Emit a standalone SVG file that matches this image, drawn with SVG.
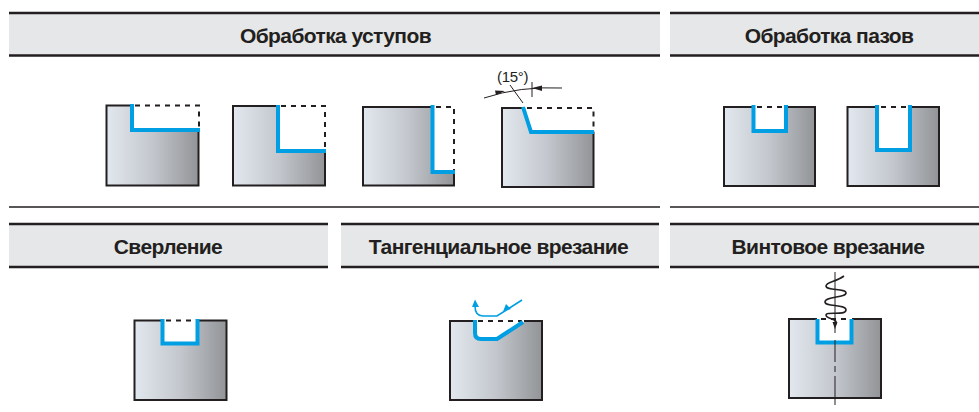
<svg xmlns="http://www.w3.org/2000/svg" width="979" height="412" viewBox="0 0 979 412">
<style>
.hb{fill:#e6e7e8}
.hl{stroke:#231f20;stroke-width:2.4;fill:none}
.ht{font-family:"Liberation Sans",Arial,sans-serif;font-weight:700;font-size:21px;letter-spacing:-.6px;fill:#231f20;text-anchor:middle}
.body{fill:url(#g);stroke:#231f20;stroke-width:2}
.cut{fill:#fff}
.dash{stroke:#231f20;stroke-width:2;stroke-dasharray:5 5;fill:none}
.blue{stroke:#009fe3;stroke-width:4;fill:none;stroke-linecap:butt;stroke-linejoin:miter}
.thin{stroke:#231f20;stroke-width:1;fill:none}
.bt{stroke:#009fe3;stroke-width:1.6;fill:none}
</style>
<defs>
<linearGradient id="g"><stop offset="0" stop-color="#e2e8ef"/><stop offset=".5" stop-color="#c3c7cd"/><stop offset="1" stop-color="#929497"/></linearGradient>
</defs>
<g id="header-ledges"><rect class="hb" x="9" y="13" width="651" height="42"/><path class="hl" d="M9 13H660M9 55.500H660"/><text class="ht" x="335.500" y="42.500">Обработка уступов</text></g>
<g id="header-slots"><rect class="hb" x="670" y="13" width="309" height="42"/><path class="hl" d="M670 13H979M670 55.500H979"/><text class="ht" x="829" y="42.500">Обработка пазов</text></g>
<path id="divider" d="M9 207H660M670 207H979" fill="none" stroke="#231f20" stroke-width="1.300"/>
<g id="header-drilling"><rect class="hb" x="9" y="224" width="319" height="42"/><path class="hl" d="M9 224H328M9 267H328"/><text class="ht" x="168" y="254">Сверление</text></g>
<g id="header-tangential"><rect class="hb" x="341" y="224" width="318" height="42"/><path class="hl" d="M341 224H659M341 267H659"/><text class="ht" x="498.500" y="254">Тангенциальное врезание</text></g>
<g id="header-helical"><rect class="hb" x="670" y="224" width="309" height="42"/><path class="hl" d="M670 224H979M670 267H979"/><text class="ht" x="828" y="254">Винтовое врезание</text></g>

<g id="part-1"><rect class="body" x="106.500" y="105.500" width="92" height="80"/><rect class="cut" x="132" y="103" width="68" height="27"/><path class="dash" d="M135 105.500H199V130"/><path class="blue" d="M132 104V130H200"/></g>
<g id="part-2"><rect class="body" x="233" y="106" width="92" height="79.500"/><rect class="cut" x="278" y="104" width="48" height="47"/><path class="dash" d="M281 106H325V151"/><path class="blue" d="M278 105V151H326"/></g>
<g id="part-3"><rect class="body" x="363" y="107" width="91" height="78.500"/><rect class="cut" x="432" y="105" width="23" height="67"/><path class="dash" d="M436 107H454V172"/><path class="blue" d="M432.500 105V172H455"/></g>
<g id="part-4"><rect class="body" x="502" y="108" width="91.500" height="79"/><path class="cut" d="M523 106H595V132H531Z"/><path class="dash" d="M527 108H593.500V132"/><path class="blue" d="M523 107L531 132H594"/>
<path class="thin" d="M484 98Q520 86 562 88M510 85L523 103M532 82V97"/><path d="M505 91L495 90.500L496 95Z M532 88L542 85.500V91Z" fill="#231f20"/>
<text x="497" y="81.500" font-family="Liberation Sans,Arial,sans-serif" font-size="15" letter-spacing="-.3" fill="#231f20">(15°)</text></g>
<g id="part-5"><rect class="body" x="724" y="107" width="91" height="79"/><rect class="cut" x="753" y="105" width="34" height="27"/><path class="dash" d="M757 107H785" stroke-dasharray="4 6"/><path class="blue" d="M753.500 105V131H786V105"/></g>
<g id="part-6"><rect class="body" x="847.500" y="107" width="91.500" height="79"/><rect class="cut" x="877" y="105" width="33" height="45"/><path class="dash" d="M881 107H908" stroke-dasharray="4 6"/><path class="blue" d="M877 105V150H910V105"/></g>
<g id="part-7"><rect class="body" x="134.500" y="320.500" width="92" height="79.500"/><rect class="cut" x="162" y="318" width="36" height="26"/><path class="dash" d="M166 320.500H196" stroke-dasharray="4 5"/><path class="blue" d="M162.500 319V343.500H197.500V319"/></g>
<g id="part-8"><rect class="body" x="450" y="321" width="92" height="79"/><path class="cut" d="M474 319H524V322L497 339H478L474 335Z"/><path class="dash" d="M478 321H522"/><path class="blue" d="M475 320V333Q475 339 481 339H497L523 322"/></g>
<g id="part-9"><rect class="body" x="789" y="319" width="92" height="79"/><rect class="cut" x="817" y="317" width="35" height="26"/><path class="dash" d="M821 319H850" stroke-dasharray="4 5"/><path class="blue" d="M817.500 319V342.500H851.500V319"/></g>

<g id="connectors">
<path class="bt" d="M522 300L497 316H483Q475 316 475 306"/>
<path d="M475 299.500L472 307H479Z M503 311.500L511 309L506 304Z" fill="#009fe3"/>
<path d="M835 272V333M835 340V362M835 366V372M835 376V405" class="thin"/>
<path d="M844 276C836 282 826 282 826 286C826 291 846 288 846 293C846 298 825 296 825 302C825 307 846 304 846 310C846 316 826 311 826 315C826 320 840 318 835 325" fill="none" stroke="#231f20" stroke-width="1.600"/>
<path d="M835 329L832.500 322H837.500Z" fill="#231f20"/>
</g>
</svg>
